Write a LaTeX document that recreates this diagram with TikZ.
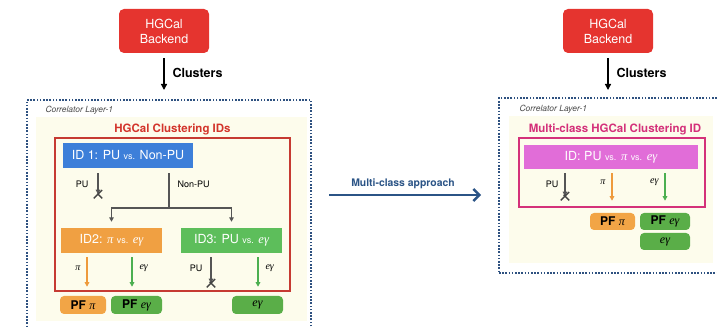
\documentclass[tikz,border=0pt]{standalone}
\usepackage{fontspec}
\setmainfont{TeX Gyre Heros}
\newfontfamily\symserif{Liberation Serif}
\usetikzlibrary{arrows.meta,calc,shapes.misc}

\definecolor{beRed}{HTML}{E5342F}
\definecolor{frRed}{HTML}{C63A32}
\definecolor{ttRed}{HTML}{D3342B}
\definecolor{idBlue}{HTML}{3D7FD9}
\definecolor{idOrange}{HTML}{F0A042}
\definecolor{idGreen}{HTML}{5DBE5B}
\definecolor{pfGreen}{HTML}{5AAE48}
\definecolor{pfOrange}{HTML}{F2A546}
\definecolor{arOrange}{HTML}{EE9A3C}
\definecolor{arGreen}{HTML}{4CAF50}
\definecolor{arGray}{HTML}{555555}
\definecolor{mgTitle}{HTML}{D4317A}
\definecolor{mgBox}{HTML}{E16DD8}
\definecolor{navy}{HTML}{2B5486}
\definecolor{dotNavy}{HTML}{2E5180}
\definecolor{cream}{HTML}{FDFCEC}
\definecolor{corrGray}{HTML}{4A4A4A}

\tikzset{
  backend/.style={fill=beRed, rounded corners=5pt, inner sep=0pt,
    minimum width=90pt, minimum height=44pt, text=white, align=center,
    font=\fontsize{12.5}{15}\selectfont},
  panel/.style={draw=dotNavy, line width=2pt, dash pattern=on 1.6pt off 1.6pt,
    inner sep=0pt},
  creamarea/.style={fill=cream, inner sep=0pt},
  frame/.style={draw=#1, line width=1.5pt, inner sep=0pt},
  idbox/.style={fill=#1, inner sep=0pt, minimum height=25pt, text=white,
    font=\fontsize{12.5}{15}\selectfont},
  pfbox/.style={fill=#1, rounded corners=4pt, inner sep=0pt, minimum height=18pt,
    text=black, font=\bfseries\fontsize{12}{14}\selectfont},
  title/.style={font=\bfseries\fontsize{11.5}{14}\selectfont, text=#1},
  corr/.style={font=\itshape\fontsize{8.5}{10}\selectfont, text=corrGray, anchor=west},
  small/.style={font=\fontsize{9}{11}\selectfont, text=black},
  bigarr/.style={-{Triangle[length=6pt,width=6pt]}, line width=1.3pt, black},
  carr/.style={-{Triangle[length=4.5pt,width=4.5pt]}, line width=1.2pt, draw=#1},
  gline/.style={line width=1.2pt, draw=arGray},
  crossx/.style={cross out, draw=arGray!80!black, line width=1.4pt,
    minimum size=7pt, inner sep=0pt},
}
\newcommand{\svs}{{\fontsize{9}{10}\selectfont vs.}}
% particle symbols set in a Times-like italic
\newcommand{\ppi}{{\symserif\itshape\mdseries π}}
\newcommand{\peg}{{\symserif\itshape\mdseries eγ}}

\begin{document}
\begin{tikzpicture}[x=1pt,y=-1pt]
\useasboundingbox (0,0) rectangle (717,328);

% ---------- per-cluster IDs (left) ----------
\node[backend] (be1) at (164,31) {HGCal\\Backend};
\node[panel, minimum width=284pt, minimum height=240pt] (pan1) at (169,220) {};
\node[creamarea, minimum width=271pt, minimum height=204pt] (cr1) at (171.5,219) {};
\node[corr] (corr1) at (42,110) {Correlator Layer-1};
\draw[bigarr, shorten <=5pt, shorten >=9pt] (be1.south) -- (be1.south |- pan1.north);
\node[anchor=west, font=\bfseries\fontsize{12.5}{15}\selectfont] (cl1) at (169,73) {Clusters};

\node[title=ttRed] (t1) at (172.5,129) {HGCal Clustering IDs};
\node[frame=frRed, minimum width=235pt, minimum height=153pt] (fr1) at (172.5,214.5) {};

\node[idbox=idBlue, minimum width=130pt] (id1) at (128,155.5) {ID 1: PU \svs{} Non-PU};
\node[idbox=idOrange, minimum width=101pt] (id2) at (111.5,240.5) {ID2: \ppi{} \svs{} \peg};
\node[idbox=idGreen, minimum width=101pt] (id3) at (231.5,240.5) {ID3: PU \svs{} \peg};

% ID1 outputs
\draw[carr=arGray, shorten <=5pt] ([xshift=-30pt]id1.south) -- ++(0,26)
  node[crossx] (x1) {};
\node[small, anchor=east] (lpu1) at (92,184) {PU};
\coordinate (split) at (169,208);
\draw[gline, shorten <=5pt] ([xshift=41pt]id1.south) -- (split);
\node[small, anchor=west] (lnpu) at (174,184) {Non-PU};
\draw[carr=arGray, shorten >=6pt] (split) -| (id2.north);
\draw[carr=arGray, shorten >=6pt] (split) -| (id3.north);

% ID2 / ID3 outputs
\draw[carr=arOrange, shorten <=4pt, shorten >=5pt] ([xshift=-24.5pt]id2.south) -- ([xshift=-24.5pt]id2.south |- fr1.south);
\node[anchor=east, text=black, font=\fontsize{10}{12}\selectfont] (lpi1) at (84,268) {\ppi};
\draw[carr=arGreen, shorten <=4pt, shorten >=5pt] ([xshift=20.5pt]id2.south) -- ([xshift=20.5pt]id2.south |- fr1.south);
\node[anchor=west, text=black, font=\fontsize{10}{12}\selectfont] (leg1) at (136,268) {\peg};
\draw[carr=arGray, shorten <=4pt] ([xshift=-20.5pt]id3.south) -- ++(0,30)
  node[crossx] (x2) {};
\node[small, anchor=east] (lpu2) at (206,268) {PU};
\draw[carr=arGreen, shorten <=4pt, shorten >=5pt] ([xshift=26.5pt]id3.south) -- ([xshift=26.5pt]id3.south |- fr1.south);
\node[anchor=west, text=black, font=\fontsize{10}{12}\selectfont] (leg2) at (262,268) {\peg};

\node[pfbox=pfOrange, minimum width=46pt] (pfpi1) at (83,305) {PF \ppi};
\node[pfbox=pfGreen, minimum width=51pt] (pfeg1) at (136.5,305) {PF \peg};
\node[pfbox=pfGreen, minimum width=51pt] (eg1) at (257.5,305) {\peg};

% ---------- multi-class ID (right) ----------
\node[backend] (be2) at (608,31) {HGCal\\Backend};
\node[panel, minimum width=231pt, minimum height=175pt] (pan2) at (614.5,185.5) {};
\node[creamarea, minimum width=204pt, minimum height=147pt] (cr2) at (611,189.5) {};
\node[corr] (corr2) at (516,109) {Correlator Layer-1};
\draw[bigarr, shorten <=5pt, shorten >=7pt] (be2.south) -- (be2.south |- pan2.north);
\node[anchor=west, font=\bfseries\fontsize{12.5}{15}\selectfont] (cl2) at (613,73) {Clusters};

\node[title=mgTitle] (t2) at (615,129) {Multi-class HGCal Clustering ID};
\node[frame=mgTitle, minimum width=186pt, minimum height=69pt] (fr2) at (612,172.5) {};
\node[idbox=mgBox, minimum width=174pt, minimum height=24pt] (id4) at (611,157) {ID: PU \svs{} \ppi{} \svs{} \peg};

\draw[carr=arGray, shorten <=4pt] ([xshift=-46pt]id4.south) -- ++(0,27)
  node[crossx] (x3) {};
\node[small, anchor=east] (lpu3) at (562,184) {PU};
\draw[carr=arOrange, shorten <=4pt, shorten >=7pt] ([xshift=1pt]id4.south) -- ([xshift=1pt]id4.south |- fr2.south);
\node[anchor=east, text=black, font=\fontsize{10}{12}\selectfont] (lpi2) at (609,182) {\ppi};
\draw[carr=arGreen, shorten <=4pt, shorten >=7pt] ([xshift=54pt]id4.south) -- ([xshift=54pt]id4.south |- fr2.south);
\node[anchor=east, text=black, font=\fontsize{10}{12}\selectfont] (leg3) at (662,182) {\peg};

\node[pfbox=pfOrange, minimum width=45pt, minimum height=17pt] (pfpi2) at (612.5,221.5) {PF \ppi};
\node[pfbox=pfGreen, minimum width=50pt, minimum height=17pt] (pfeg2) at (665,221.5) {PF \peg};
\node[pfbox=pfGreen, minimum width=50pt, minimum height=17pt] (eg2) at (665,241.5) {\peg};

% ---------- transition between the two schemes ----------
\coordinate (mid) at (405,195);
\draw[line width=2.4pt, navy, -{Straight Barb[length=6pt,width=12pt,line width=2.4pt]},
  shorten <=17pt, shorten >=17pt] (pan1.east |- mid) -- (pan2.west |- mid);
\node[font=\bfseries\fontsize{10.4}{12}\selectfont, text=navy] (mca) at (403,184) {Multi-class approach};
\end{tikzpicture}
\end{document}
